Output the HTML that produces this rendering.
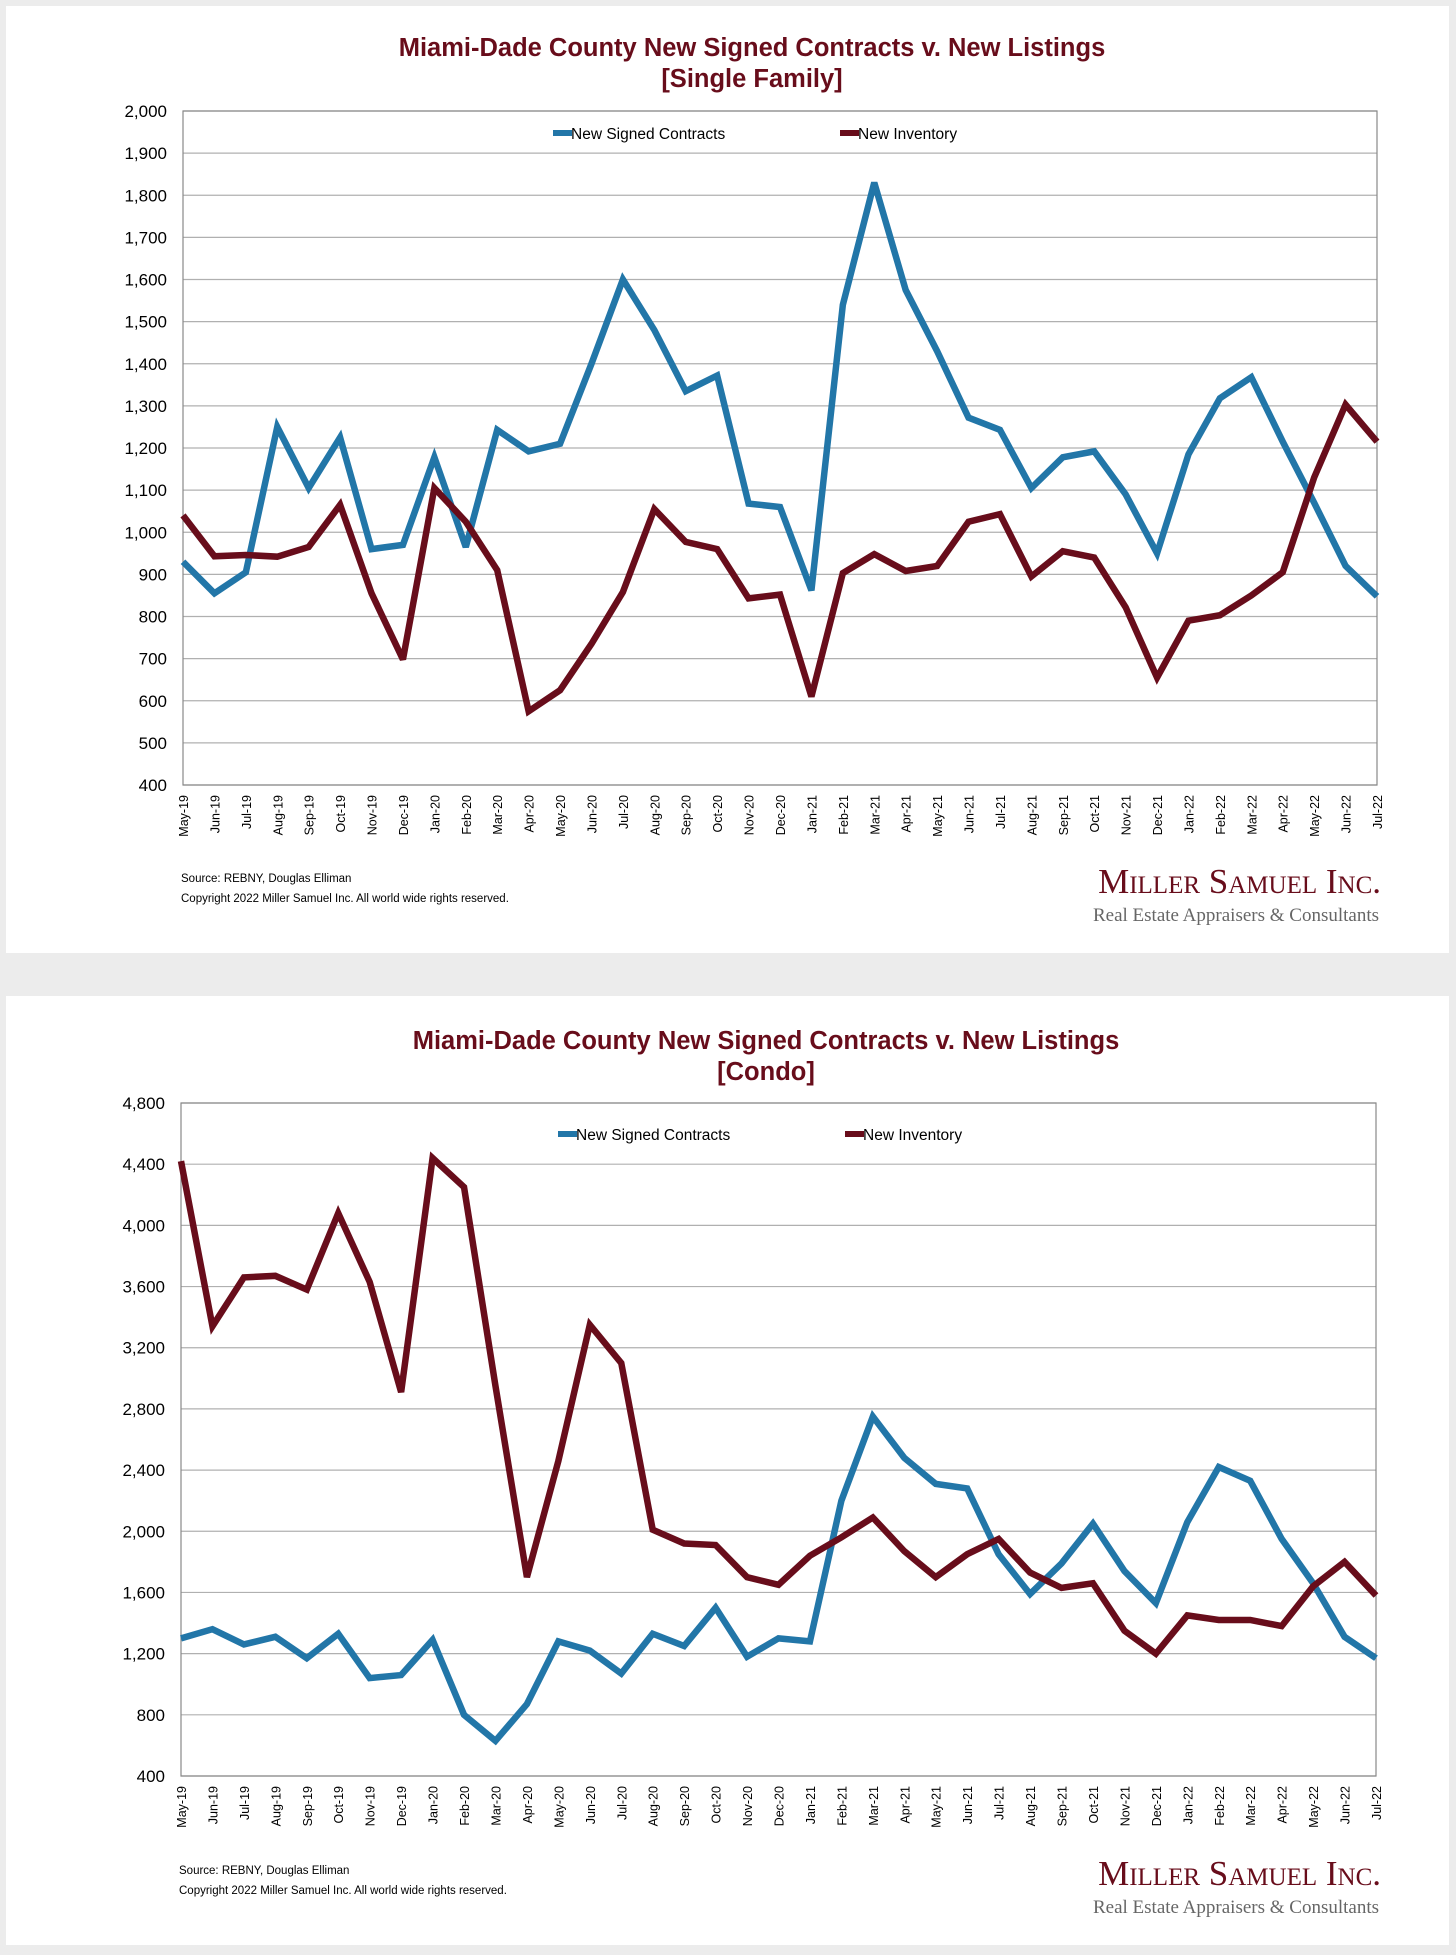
<!DOCTYPE html>
<html><head><meta charset="utf-8"><style>
html,body{margin:0;padding:0;background:#ececec;}
svg{display:block;font-family:"Liberation Sans",sans-serif;}
</style></head><body>
<svg id="s" width="1456" height="1955" viewBox="0 0 1456 1955">
<rect x="0" y="0" width="1456" height="1955" fill="#ececec"/>
</svg>
<script>
const months=["May-19","Jun-19","Jul-19","Aug-19","Sep-19","Oct-19","Nov-19","Dec-19","Jan-20","Feb-20","Mar-20","Apr-20","May-20","Jun-20","Jul-20","Aug-20","Sep-20","Oct-20","Nov-20","Dec-20","Jan-21","Feb-21","Mar-21","Apr-21","May-21","Jun-21","Jul-21","Aug-21","Sep-21","Oct-21","Nov-21","Dec-21","Jan-22","Feb-22","Mar-22","Apr-22","May-22","Jun-22","Jul-22"];
const sfContracts=[930,855,905,1250,1105,1225,960,970,1178,965,1243,1192,1210,1400,1600,1480,1335,1372,1068,1060,862,1540,1830,1575,1430,1272,1243,1105,1178,1192,1090,950,1185,1318,1368,1215,1070,920,848];
const sfInventory=[1040,943,946,942,965,1065,855,698,1105,1025,910,575,625,735,858,1055,977,960,843,852,610,903,948,908,920,1025,1043,895,955,940,822,655,790,803,850,905,1130,1303,1215];
const sfTicks=[400,500,600,700,800,900,1000,1100,1200,1300,1400,1500,1600,1700,1800,1900,2000];
const cdContracts=[1300,1360,1260,1310,1170,1330,1040,1060,1290,800,630,870,1280,1220,1070,1330,1250,1500,1180,1300,1280,2200,2750,2480,2310,2280,1850,1590,1790,2050,1740,1530,2060,2420,2330,1950,1660,1310,1170];
const cdInventory=[4420,3340,3660,3670,3580,4080,3630,2910,4440,4250,2950,1700,2460,3350,3100,2010,1920,1910,1700,1650,1840,1960,2090,1870,1700,1850,1950,1730,1630,1660,1350,1200,1450,1420,1420,1380,1640,1800,1580];
const cdTicks=[400,800,1200,1600,2000,2400,2800,3200,3600,4000,4400,4800];

const NS="http://www.w3.org/2000/svg";
const svg=document.getElementById('s');
function el(tag,attrs,parent,text){const e=document.createElementNS(NS,tag);for(const k in attrs)e.setAttribute(k,attrs[k]);if(text!==undefined)e.textContent=text;(parent||svg).appendChild(e);return e;}
const BLUE="#2276a8",RED="#680d1b";

function chart(cfg){
  const g=el('g',{});
  
  
  const card=el('rect',{x:6,y:cfg.cardY,width:1443,height:cfg.cardH,fill:'#fff'},g);
  
  
  const t1=el('text',{x:cfg.titleX,y:cfg.t1y,'text-anchor':'middle','font-size':25.5,'font-weight':'bold',fill:RED},g,cfg.title);
  
  
  const t2=el('text',{x:cfg.titleX,y:cfg.t2y,'text-anchor':'middle','font-size':25.5,'font-weight':'bold',fill:RED},g,cfg.sub);
  
  
  const L=cfg.L,R=cfg.R,T=cfg.T,B=cfg.B,min=cfg.ticks[0],max=cfg.ticks[cfg.ticks.length-1];
  const y=v=>B-(v-min)/(max-min)*(B-T);
  const x=i=>L+i*(R-L)/(months.length-1);
  cfg.ticks.forEach(v=>{
    const ln=el('line',{x1:L,x2:R,y1:y(v),y2:y(v),stroke:'#b0b0b0','stroke-width':1.2},g);
    
    
    const tl=el('text',{x:L-16,y:y(v)+6,'text-anchor':'end','font-size':17,fill:'#000'},g,v.toLocaleString('en-US'));
    
    
  });
  const fr=el('rect',{x:L,y:T,width:R-L,height:B-T,fill:'none',stroke:'#888','stroke-width':1.2},g);
  
  
  months.forEach((m,i)=>{
    const tx=el('text',{transform:`translate(${x(i)+5},${B+10}) rotate(-90)`,'text-anchor':'end','font-size':12.5,fill:'#000'},g,m);
    
    
  });
  [[cfg.blue,BLUE,'contracts-line'],[cfg.red,RED,'inventory-line']].forEach(([d,c,n])=>{
    const p=el('polyline',{points:d.map((v,i)=>x(i)+','+y(v)).join(' '),fill:'none',stroke:c,'stroke-width':6.5,'stroke-linejoin':'miter','stroke-miterlimit':3},g);
    
    
  });
  [[cfg.legX1,BLUE,'New Signed Contracts'],[cfg.legX2,RED,'New Inventory']].forEach(([lx,c,tx])=>{
    const lg=el('g',{},g);
    
    
    el('line',{x1:lx,x2:lx+19,y1:cfg.legY,y2:cfg.legY,stroke:c,'stroke-width':6},lg);
    el('text',{x:lx+18,y:cfg.legY+6,'font-size':15.5,fill:'#000'},lg,tx);
  });
  const s1=el('text',{x:L-2,y:cfg.srcY,'font-size':11.5,fill:'#000'},g,'Source: REBNY, Douglas Elliman');
  
  
  const s2=el('text',{x:L-2,y:cfg.srcY+20,'font-size':11.5,fill:'#000'},g,'Copyright 2022 Miller Samuel Inc.  All world wide rights reserved.');
  
  
  const lgo=el('text',{x:1381,y:cfg.logoY,'text-anchor':'end','font-size':35,'font-family':'Liberation Serif, serif',fill:RED,'font-variant':'small-caps'},g,'Miller Samuel Inc.');
  
  
  const tg=el('text',{x:1379,y:cfg.logoY+28,'text-anchor':'end','font-size':19,'font-family':'Liberation Serif, serif',fill:'#666'},g,'Real Estate Appraisers & Consultants');
  
  
}
chart({name:'single-family-chart',cardY:6,cardH:947,title:'Miami-Dade County New Signed Contracts v. New Listings',sub:'[Single Family]',titleX:752,t1y:56,t2y:87,L:183,R:1377,T:111,B:785,ticks:sfTicks,blue:sfContracts,red:sfInventory,legX1:553,legX2:840,legY:133,srcY:882,logoY:893});
chart({name:'condo-chart',cardY:996,cardH:949,title:'Miami-Dade County New Signed Contracts v. New Listings',sub:'[Condo]',titleX:766,t1y:1049,t2y:1080,L:181,R:1376,T:1103,B:1776,ticks:cdTicks,blue:cdContracts,red:cdInventory,legX1:558,legX2:845,legY:1134,srcY:1874,logoY:1885});
</script>
</body></html>
